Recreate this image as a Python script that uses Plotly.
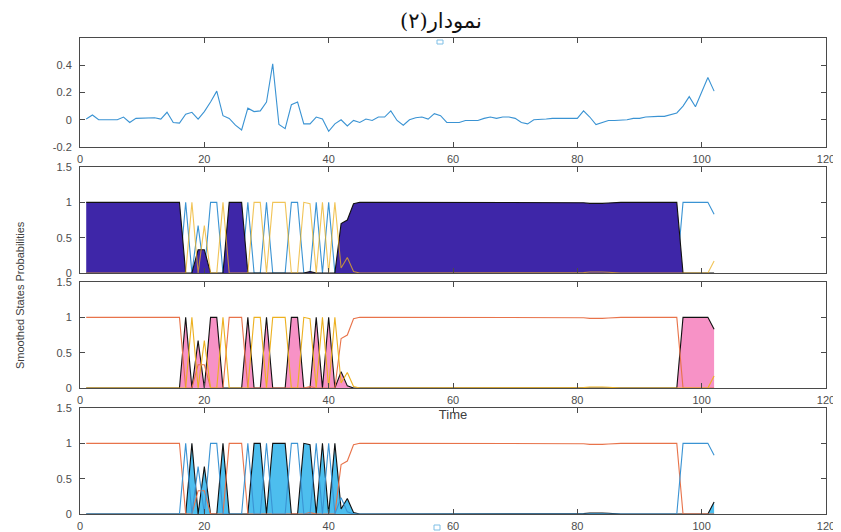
import plotly.graph_objects as go

# ---------------- data ----------------
time = list(range(1, 103))

returns = [0.005, 0.035, 0.0, 0.0, 0.0, 0.0, 0.02, -0.02, 0.01, 0.01,
           0.01, 0.015, 0.005, 0.055, -0.02, -0.025, 0.04, 0.055, 0.005, 0.06,
           0.13, 0.21, 0.03, 0.01, -0.04, -0.075, 0.085, 0.06, 0.065, 0.13,
           0.41, -0.035, -0.065, 0.11, 0.13, -0.03, -0.03, 0.02, 0.005, -0.085,
           -0.03, 0.0, -0.045, -0.005, -0.02, 0.005, -0.005, 0.02, 0.02, 0.065,
           -0.005, -0.04, 0.0, 0.015, 0.02, 0.005, 0.045, 0.03, -0.02, -0.02,
           -0.02, -0.005, -0.005, -0.005, 0.01, 0.02, 0.01, 0.02, 0.02, 0.01,
           -0.02, -0.03, 0.0, 0.0, 0.005, 0.01, 0.01, 0.01, 0.01, 0.01,
           0.065, 0.02, -0.035, -0.02, -0.005, -0.005, -0.005, 0.0, 0.01, 0.01,
           0.02, 0.025, 0.025, 0.025, 0.035, 0.05, 0.1, 0.17, 0.095, 0.21,
           0.31, 0.21]

# smoothed probabilities of the three regimes
state_a = [1, 1, 1, 1, 1, 1, 1, 1, 1, 1,
           1, 1, 1, 1, 1, 1, 0, 0, 0.33, 0.33,
           0, 0, 0, 1, 1, 1, 0, 0, 0, 0,
           0, 0, 0, 0, 0, 0, 0.02, 0, 0, 0,
           0, 0.70, 0.75, 0.98, 1, 1, 1, 1, 1, 1,
           1, 1, 1, 1, 1, 1, 0.995, 1, 1, 1,
           1, 1, 1, 1, 1, 1, 1, 1, 1, 1,
           1, 1, 1, 1, 1, 1, 1, 1, 1, 1,
           0.995, 0.985, 0.98, 0.985, 0.99, 1, 1, 1, 1, 1,
           1, 1, 1, 1, 1, 1, 0, 0, 0, 0,
           0, 0]

state_b = [0, 0, 0, 0, 0, 0, 0, 0, 0, 0,
           0, 0, 0, 0, 0, 0, 1, 0, 0.67, 0,
           1, 1, 0, 0, 0, 0, 1, 0, 0, 1,
           0, 0, 0, 1, 1, 0, 0, 1, 0, 1,
           0, 0.23, 0.03, 0, 0, 0, 0, 0, 0, 0,
           0, 0, 0, 0, 0, 0, 0, 0, 0, 0,
           0, 0, 0, 0, 0, 0, 0, 0, 0, 0,
           0, 0, 0, 0, 0, 0, 0, 0, 0, 0,
           0, 0, 0, 0, 0, 0, 0, 0, 0, 0,
           0, 0, 0, 0, 0, 0, 1, 1, 1, 1,
           1, 0.83]

state_c = [0, 0, 0, 0, 0, 0, 0, 0, 0, 0,
           0, 0, 0, 0, 0, 0, 0, 1, 0, 0.67,
           0, 0, 1, 0, 0, 0, 0, 1, 1, 0,
           1, 1, 1, 0, 0, 1, 0.98, 0, 1, 0,
           1, 0.07, 0.22, 0.02, 0, 0, 0, 0, 0, 0,
           0, 0, 0, 0, 0, 0, 0.005, 0, 0, 0,
           0, 0, 0, 0, 0, 0, 0, 0, 0, 0,
           0, 0, 0, 0, 0, 0, 0, 0, 0, 0,
           0.005, 0.015, 0.02, 0.015, 0.01, 0, 0, 0, 0, 0,
           0, 0, 0, 0, 0, 0, 0, 0, 0, 0,
           0, 0.17]

x_ticks = [0, 20, 40, 60, 80, 100, 120]
ret_ticks = [-0.2, 0, 0.2, 0.4, 0.6]
ret_tick_text = ["-0.2", "0", "0.2", "0.4", ""]
prob_ticks = [0, 0.5, 1, 1.5]
prob_tick_text = ["0", "0.5", "1", "1.5"]

title_text = "نمودار(۲)"
y_label = "Smoothed States Probabilities"
x_label = "Time"

# ---------------- styles ----------------
C_BLUE = "#3A93D3"
C_ORANGE = "#E8734A"
C_YELLOW = "#EDB120"
C_DARK = "#3E26A8"
C_PINK = "#F792C6"
C_LIGHT = "#4DBEEE"
AX = "#4a4a4a"

# page has an 8px body margin; size the figure so it fills the 841x532 window
OFF = 8
W, H = 841 - OFF, 532 - OFF
px_x = lambda p: (p - OFF) / W
px_y = lambda p: 1 - (p - OFF) / H

x_dom = [px_x(80), px_x(826)]
doms = [
    [px_y(147), px_y(38)],
    [px_y(273), px_y(167)],
    [px_y(388), px_y(282)],
    [px_y(514), px_y(408)],
]

fig = go.Figure()

def line(y, color, ax, width=1.1, opacity=1.0):
    fig.add_trace(go.Scatter(x=time, y=y, mode="lines", xaxis="x" + ax, yaxis="y" + ax,
                             line=dict(color=color, width=width), opacity=opacity,
                             showlegend=False, hoverinfo="skip"))

def area(y, color, ax):
    fig.add_trace(go.Scatter(x=time, y=y, mode="lines", xaxis="x" + ax, yaxis="y" + ax,
                             fill="tozeroy", fillcolor=color,
                             line=dict(color="#111111", width=1.1),
                             showlegend=False, hoverinfo="skip"))

# panel 1
line(returns, C_BLUE, "", width=1.1)
# panel 2
line(state_b, C_BLUE, "2")
area(state_a, C_DARK, "2")
line(state_c, C_YELLOW, "2", opacity=0.75)
# panel 3
area(state_b, C_PINK, "3")
line(state_a, C_ORANGE, "3")
line(state_c, C_YELLOW, "3")
# panel 4
area(state_c, C_LIGHT, "4")
line(state_a, C_ORANGE, "4")
line(state_b, C_BLUE, "4")

tick_font = dict(family="Liberation Sans, Arial, sans-serif", size=11, color="#4d4d4d")

def xaxis(show_labels, anchor, title=None):
    d = dict(domain=x_dom, range=[0, 120], tickvals=x_ticks, ticktext=[str(v) for v in x_ticks],
             showticklabels=show_labels, ticks="inside", ticklen=5, tickcolor=AX,
             showline=True, linecolor=AX, linewidth=1, mirror="ticks",
             showgrid=False, zeroline=False, anchor=anchor, tickfont=tick_font,
             automargin=False, ticklabelstandoff=2)
    if title:
        d["title"] = dict(text=title, font=dict(family="Liberation Sans, Arial, sans-serif",
                                                size=13, color="#404040"), standoff=4)
    return d

def yaxis(dom, rng, tv, tt, anchor):
    return dict(domain=dom, range=rng, tickvals=tv, ticktext=tt,
                ticks="inside", ticklen=5, tickcolor=AX,
                showline=True, linecolor=AX, linewidth=1, mirror="ticks",
                showgrid=False, zeroline=False, anchor=anchor, tickfont=tick_font,
                automargin=False, ticklabelstandoff=5)

fig.update_layout(
    template="none",
    width=W, height=H,
    margin=dict(l=0, r=0, t=0, b=0, pad=0, autoexpand=False),
    paper_bgcolor="white", plot_bgcolor="white",
    xaxis=xaxis(True, "y"),
    yaxis=yaxis(doms[0], [-0.2, 0.6], ret_ticks, ret_tick_text, "x"),
    xaxis2=xaxis(False, "y2"),
    yaxis2=yaxis(doms[1], [0, 1.5], prob_ticks, prob_tick_text, "x2"),
    xaxis3=xaxis(True, "y3", title=x_label),
    yaxis3=yaxis(doms[2], [0, 1.5], prob_ticks, prob_tick_text, "x3"),
    xaxis4=xaxis(True, "y4"),
    yaxis4=yaxis(doms[3], [0, 1.5], prob_ticks, prob_tick_text, "x4"),
    annotations=[
        dict(text=title_text, x=px_x(441), y=px_y(21), xref="paper", yref="paper",
             xanchor="center", yanchor="middle",
             showarrow=False, font=dict(family="DejaVu Serif, DejaVu Sans, serif", size=21, color="#111")),
        dict(text=y_label, x=px_x(20), y=px_y(295), xref="paper", yref="paper",
             xanchor="center", yanchor="middle",
             textangle=-90, showarrow=False,
             font=dict(family="Liberation Sans, Arial, sans-serif", size=11, color="#404040")),
    ],
    shapes=[
        dict(type="rect", xref="paper", yref="paper", x0=px_x(437), x1=px_x(443),
             y0=px_y(44), y1=px_y(40), line=dict(color="#7fbfe6", width=1), fillcolor="white"),
        dict(type="rect", xref="paper", yref="paper", x0=px_x(434), x1=px_x(440),
             y0=px_y(530), y1=px_y(525), line=dict(color="#7fbfe6", width=1), fillcolor="white"),
    ],
)

fig.write_html("out.html")
